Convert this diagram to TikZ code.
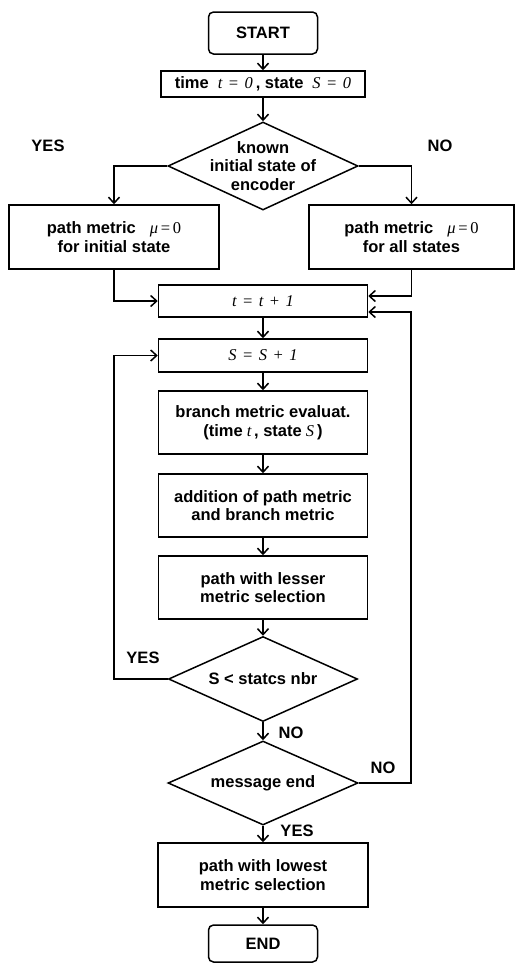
\documentclass[tikz,border=0pt]{standalone}
\usepackage{fontspec}
\setmainfont{Liberation Sans}
\newfontfamily\tmsfont{Liberation Serif}
\usetikzlibrary{arrows.meta}
\usetikzlibrary{shapes.geometric, positioning, calc}
\newcommand{\mvar}[1]{{\tmsfont\mdseries\itshape #1}}
\newcommand{\mrm}[1]{{\tmsfont\mdseries #1}}

\begin{document}
\begin{tikzpicture}[x=1pt, y=-1pt, line width=1.5pt,
    font=\fontsize{16.5}{18.5}\selectfont\bfseries,
    box/.style={draw, rectangle, align=center, inner sep=0pt},
    term/.style={box, rounded corners=5pt, minimum width=109pt},
    dec/.style={draw, diamond, inner sep=0pt},
    txt/.style={align=center, inner sep=0pt},
    arr/.style={-{Straight Barb[length=6pt, width=11pt, line width=1.5pt]}}]
      \useasboundingbox (0, 0) rectangle (515, 964);

      \node[term, minimum height=42pt] (start) at (263, 33) {START};
      \node[box, minimum width=204pt, minimum height=26pt] (init) at (263, 84)
        {time\hspace{9pt}\mvar{t\,\,=\,\,0}\hspace{3pt}, state\hspace{9pt}\mvar{S\,\,=\,\,0}};
      \node[dec, minimum width=190pt, minimum height=88pt] (known) at (263, 166) {};
      \node[txt] (knowntxt) at (known.center) {known\\initial state of\\encoder};
      \node[box, minimum width=210pt, minimum height=64pt] (pminit) at (114, 237)
        {path metric\hspace{14pt}\mvar{μ}\mrm{\,=\,0}\\for initial state};
      \node[box, minimum width=205pt, minimum height=64pt] (pmall) at (411.5, 237)
        {path metric\hspace{14pt}\mvar{μ}\mrm{\,=\,0}\\for all states};
      \node[box, minimum width=209pt, minimum height=32pt] (tinc) at (263, 301)
        {\mvar{t\,\,=\,\,t\,\,+\,\,1}};
      \node[box, minimum width=209pt, minimum height=33pt] (sinc) at (263, 355.5)
        {\mvar{S\,\,=\,\,S\,\,+\,\,1}};
      \node[box, minimum width=209pt, minimum height=63pt] (branch) at (263, 422.5)
        {branch metric evaluat.\\(time\hspace{4pt}\mvar{t}\,, state\hspace{4pt}\mvar{S}\hspace{3pt})};
      \node[box, minimum width=209pt, minimum height=63pt] (addm) at (263, 505.5)
        {addition of path metric\\and branch metric};
      \node[box, minimum width=209pt, minimum height=63pt] (lesser) at (263, 587.5)
        {path with lesser\\metric selection};
      \node[dec, minimum width=189pt, minimum height=85pt] (cmp) at (263, 679) {};
      \node[txt] (cmptxt) at (cmp.center) {S < statcs nbr};
      \node[dec, minimum width=190pt, minimum height=84pt] (msg) at (263, 783) {};
      \node[txt] (msgtxt) at (msg.center) {message end};
      \node[box, minimum width=210pt, minimum height=64pt] (lowest) at (263, 875)
        {path with lowest\\metric selection};
      \node[term, minimum height=37pt] (stop) at (263, 943.5) {END};

      % labels
      \node[txt] (yes1) at (48, 146) {YES};
      \node[txt] (no1) at (440, 146) {NO};
      \node[txt] (yes2) at (143, 658) {YES};
      \node[txt] (no2) at (291, 733) {NO};
      \node[txt] (no3) at (383, 768) {NO};
      \node[txt] (yes3) at (297, 831) {YES};

      % connectors
      \draw[arr] (start) -- (init);
      \draw[arr] (init) -- (known);
      \draw[arr] (known.west) -| (pminit.north);
      \draw[arr] (known.east) -| (pmall.north);
      \draw[arr] (pminit.south) |- (tinc.west);
      \draw[arr] (pmall.south) |- ([yshift=5pt]tinc.east);
      \draw[arr] (tinc) -- (sinc);
      \draw[arr] (sinc) -- (branch);
      \draw[arr] (branch) -- (addm);
      \draw[arr] (addm) -- (lesser);
      \draw[arr] (lesser) -- (cmp);
      \draw[arr] (cmp) -- (msg);
      \draw[arr] (msg) -- (lowest);
      \draw[arr] (lowest) -- (stop);

      \coordinate (yesloop) at (114, 679);
      \draw[arr] (cmp.west) -- (yesloop) |- (sinc.west);
      \coordinate (noloop) at (411, 783);
      \draw[arr] (msg.east) -- (noloop) |- ([yshift=-11pt]tinc.east);

    \end{tikzpicture}
\end{document}
